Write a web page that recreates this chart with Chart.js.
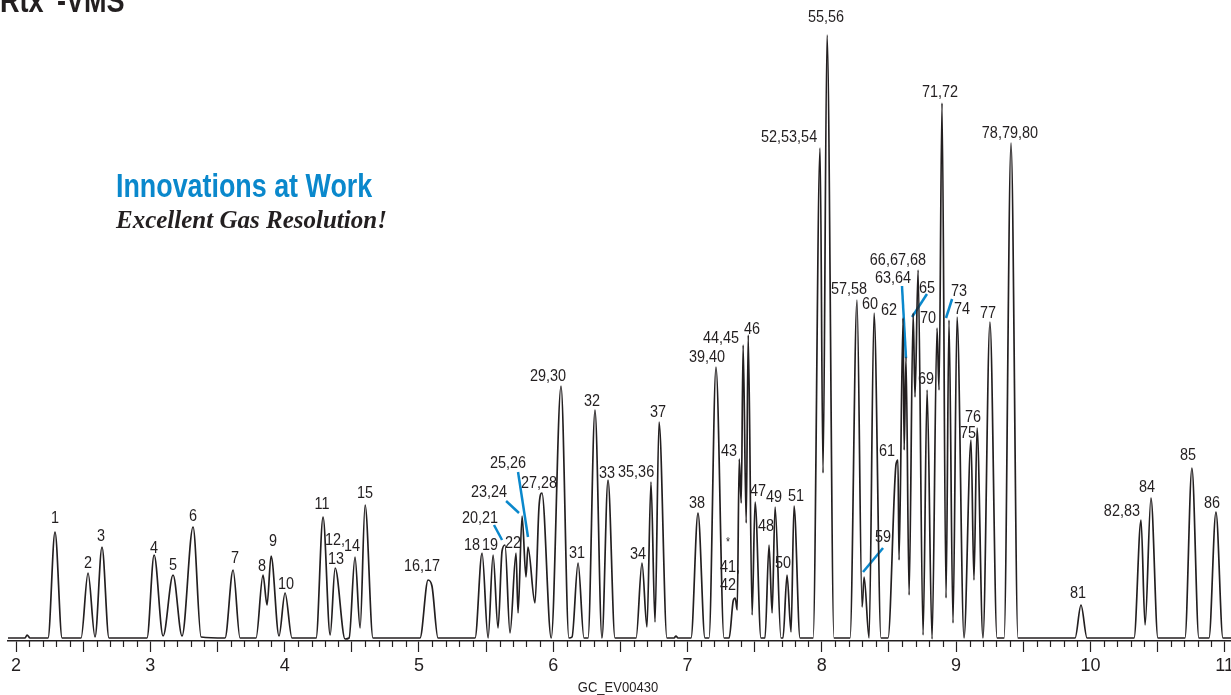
<!DOCTYPE html>
<html lang="en">
<head>
  <meta charset="UTF-8">
  <title>Rtx-VMS chromatogram</title>
  <script src="https://cdn.jsdelivr.net/npm/chart.js@4.4.1/dist/chart.umd.min.js"></script>
  <style>
    body { margin: 0; background: #fff; }
  </style>
</head>
<body>
<canvas id="myChart" width="1231" height="695"></canvas>

<script>
    // trace: retention time (min) and detector signal
    const traceTime = [
      1.940, 2.030, 2.067, 2.082, 2.104, 2.238, 2.290, 2.343, 2.484, 2.536,
      2.588, 2.640, 2.692, 2.975, 3.028, 3.095, 3.169, 3.236, 3.318, 3.378,
      3.556, 3.616, 3.668, 3.787, 3.839, 3.869, 3.899, 3.958, 4.003, 4.055,
      4.234, 4.286, 4.339, 4.376, 4.450, 4.480, 4.524, 4.562, 4.599, 4.658,
      5.008, 5.068, 5.097, 5.142, 5.418, 5.470, 5.515, 5.552, 5.589, 5.619,
      5.641, 5.678, 5.723, 5.738, 5.768, 5.797, 5.812, 5.864, 5.894, 5.916,
      5.985, 6.058, 6.117, 6.140, 6.185, 6.229, 6.259, 6.311, 6.363, 6.408,
      6.460, 6.617, 6.661, 6.698, 6.728, 6.758, 6.788, 6.847, 6.900, 6.914,
      6.929, 7.026, 7.078, 7.130, 7.160, 7.212, 7.272, 7.310, 7.340, 7.355,
      7.370, 7.385, 7.400, 7.414, 7.437, 7.452, 7.481, 7.503, 7.547, 7.577,
      7.607, 7.630, 7.652, 7.696, 7.711, 7.741, 7.771, 7.793, 7.838, 7.935,
      7.987, 8.009, 8.039, 8.091, 8.210, 8.262, 8.300, 8.315, 8.352, 8.389,
      8.441, 8.493, 8.553, 8.567, 8.575, 8.605, 8.613, 8.627, 8.650, 8.680,
      8.694, 8.717, 8.754, 8.784, 8.821, 8.858, 8.873, 8.895, 8.925, 8.947,
      8.977, 9.007, 9.059, 9.111, 9.133, 9.156, 9.200, 9.252, 9.305, 9.357,
      9.409, 9.461, 9.886, 9.930, 9.975, 10.325, 10.377, 10.407, 10.451, 10.503,
      10.704, 10.756, 10.808, 10.883, 10.935, 10.987, 11.047
    ];
    const traceSignal = [
      1, 1, 1, 4, 1, 1, 107, 1, 1, 66,
      2, 92, 1, 1, 84, 3, 64, 3, 112, 2,
      1, 69, 1, 1, 64, 34, 83, 3, 46, 1,
      1, 122, 4, 71, 0, 1, 82, 11, 134, 1,
      1, 59, 53, 1, 1, 86, 1, 84, 11, 88,
      94, 6, 86, 26, 123, 62, 92, 36, 132, 146,
      1, 253, 1, 2, 76, 1, 1, 229, 1, 159,
      1, 1, 76, 12, 157, 17, 217, 1, 1, 3,
      1, 1, 126, 1, 1, 272, 1, 1, 38, 41,
      29, 180, 136, 294, 116, 304, 24, 137, 1, 1,
      94, 26, 132, 1, 1, 64, 7, 133, 1, 1,
      491, 166, 604, 1, 1, 339, 32, 62, 1, 326,
      1, 1, 175, 179, 79, 321, 189, 282, 44, 326,
      242, 369, 4, 249, 0, 311, 249, 536, 41, 319,
      16, 322, 1, 199, 59, 211, 1, 317, 1, 1,
      496, 1, 1, 34, 1, 1, 119, 14, 141, 1,
      1, 171, 1, 1, 127, 1, 1
    ];

    // peak labels and where they sit (time, signal)
    const peakLabels = ['1','2','3','4','5','6','7','8','9','10','11','12,','13','14','15','16,17',
      '18','19','20,21','22','23,24','25,26','27,28','29,30','31','32','33','34','35,36','37','38',
      '39,40','*','41,','42','43','44,45','46','47','48','49','50','51','52,53,54','55,56','57,58',
      '59','60','61','62','63,64','65','66,67,68','69','70','71,72','73','74','75','76','77',
      '78,79,80','81','82,83','84','85','86'];
    const labelTime = [2.290, 2.536, 2.633, 3.028, 3.169, 3.318, 3.631, 3.832, 3.914, 4.011, 4.279, 4.375, 4.383, 4.502, 4.599, 5.023,
      5.395, 5.530, 5.455, 5.701, 5.522, 5.663, 5.894, 5.961, 6.177, 6.289, 6.401, 6.631, 6.617, 6.780, 7.071,
      7.145, 7.302, 7.317, 7.302, 7.309, 7.249, 7.480, 7.525, 7.585, 7.644, 7.711, 7.808, 7.756, 8.031, 8.203,
      8.456, 8.359, 8.486, 8.500, 8.530, 8.783, 8.567, 8.776, 8.791, 8.880, 9.021, 9.044, 9.089, 9.126, 9.238,
      9.401, 9.908, 10.235, 10.421, 10.727, 10.906];
    const labelSignal = [121, 76, 103, 91, 74, 123, 81, 73, 98, 55, 135, 99, 80, 93, 146, 73,
      94, 94, 121, 96, 147, 176, 156, 263, 86, 238, 166, 85, 167, 227, 136,
      282, 96, 72, 54, 188, 301, 310, 148, 113, 142, 76, 143, 502, 622, 350,
      102, 335, 188, 329, 361, 351, 379, 260, 321, 547, 348, 330, 206, 222, 326,
      506, 46, 128, 152, 184, 136];

    // blue leader lines: [t1, s1, t2, s2]
    const leaderLines = [
      [5.559, 114, 5.619, 99],
      [5.649, 138, 5.745, 126],
      [5.738, 167, 5.812, 102],
      [8.307, 67, 8.456, 91],
      [8.597, 353, 8.627, 281],
      [8.672, 322, 8.783, 345],
      [8.925, 321, 8.970, 340]
    ];

    const ink = '#231f20';
    const blue = '#0a88cc';
    const sans = "'Liberation Sans', Arial, sans-serif";

    const traceData = traceTime.map((t, i) => ({x: t, y: traceSignal[i]}));

    const datasets = [{
      label: 'Rtx-VMS',
      data: traceData,
      borderColor: ink,
      borderWidth: 1.7,
      pointRadius: 0,
      fill: false,
      cubicInterpolationMode: 'monotone'
    }];
    leaderLines.forEach(l => {
      datasets.push({
        data: [{x: l[0], y: l[1]}, {x: l[2], y: l[3]}],
        borderColor: blue,
        borderWidth: 2.5,
        pointRadius: 0,
        fill: false
      });
    });

    // condensed look: squeeze Liberation Sans horizontally
    function narrowText(ctx, txt, x, y, font, squeeze) {
      ctx.save();
      ctx.font = font;
      ctx.translate(x, y);
      ctx.scale(squeeze, 1);
      ctx.fillText(txt, 0, 0);
      ctx.restore();
    }

    const peak_labels = {
      id: 'peak_labels',
      afterDatasetsDraw: (chart) => {
        const ctx = chart.ctx;
        const xs = chart.scales.x, ys = chart.scales.y;
        ctx.save();
        ctx.fillStyle = ink;
        ctx.textAlign = 'center';
        ctx.textBaseline = 'middle';
        peakLabels.forEach((txt, i) => {
          const font = txt === '*' ? '12px ' + sans : '17px ' + sans;
          narrowText(ctx, txt, xs.getPixelForValue(labelTime[i]), ys.getPixelForValue(labelSignal[i]), font, 0.85);
        });
        ctx.restore();
      }
    };

    // minor ticks every 0.1 min, the axis draws the 0.5 ones
    const minor_ticks = {
      id: 'minor_ticks',
      afterDraw: (chart) => {
        const ctx = chart.ctx;
        const xs = chart.scales.x;
        const y0 = chart.chartArea.bottom;
        ctx.save();
        ctx.strokeStyle = ink;
        ctx.lineWidth = 1.2;
        for (let i = 19; i <= 110; i++) {
          if (i % 5 === 0) continue;
          const v = i / 10;
          if (v < xs.min || v > xs.max) continue;
          const px = Math.round(xs.getPixelForValue(v)) + 0.5;
          ctx.beginPath();
          ctx.moveTo(px, y0);
          ctx.lineTo(px, y0 + 6);
          ctx.stroke();
        }
        ctx.restore();
      }
    };

    const headings = {
      id: 'headings',
      afterDraw: (chart) => {
        const ctx = chart.ctx;
        ctx.save();
        ctx.textBaseline = 'alphabetic';
        ctx.textAlign = 'left';
        ctx.fillStyle = ink;
        narrowText(ctx, 'Rtx', 0, 12, 'bold 33px ' + sans, 0.82);
        narrowText(ctx, '®', 44, -1, 'bold 14px ' + sans, 0.82);
        narrowText(ctx, '-VMS', 57, 12, 'bold 33px ' + sans, 0.82);

        ctx.fillStyle = blue;
        narrowText(ctx, 'Innovations at Work', 116, 197, 'bold 34px ' + sans, 0.79);

        ctx.fillStyle = ink;
        ctx.font = "italic bold 25px 'Liberation Serif', 'DejaVu Serif', serif";
        ctx.fillText('Excellent Gas Resolution!', 116, 228);

        ctx.textAlign = 'center';
        narrowText(ctx, 'GC_EV00430', 618, 692, '14px ' + sans, 0.93);
        ctx.restore();
      }
    };

    var ctx = document.getElementById("myChart");
    var myChart = new Chart(ctx, {
      type: 'line',
      data: { datasets: datasets },
      plugins: [peak_labels, minor_ticks, headings],
      options: {
        responsive: false,
        animation: false,
        devicePixelRatio: 1,
        layout: { padding: { left: 8, right: 0, top: 0, bottom: 0 } },
        scales: {
          x: {
            type: 'linear',
            min: 1.940,
            max: 11.047,
            afterFit: (scale) => {
              scale.height = 54;
              scale.paddingLeft = 0;
              scale.paddingRight = 0;
            },
            border: { display: true, color: ink, width: 1.5 },
            grid: {
              drawOnChartArea: false,
              drawTicks: true,
              tickLength: 11,
              tickColor: ink,
              tickWidth: 1.2
            },
            ticks: {
              stepSize: 0.5,
              includeBounds: false,
              autoSkip: false,
              maxRotation: 0,
              padding: 3,
              color: ink,
              font: { size: 18, family: sans },
              callback: function(value) {
                return Number.isInteger(value) ? String(value) : '';
              }
            }
          },
          y: {
            display: false,
            min: -2,
            max: 639
          }
        },
        plugins: {
          legend: { display: false },
          tooltip: { enabled: false }
        }
      }
    });
</script>
</body>
</html>
